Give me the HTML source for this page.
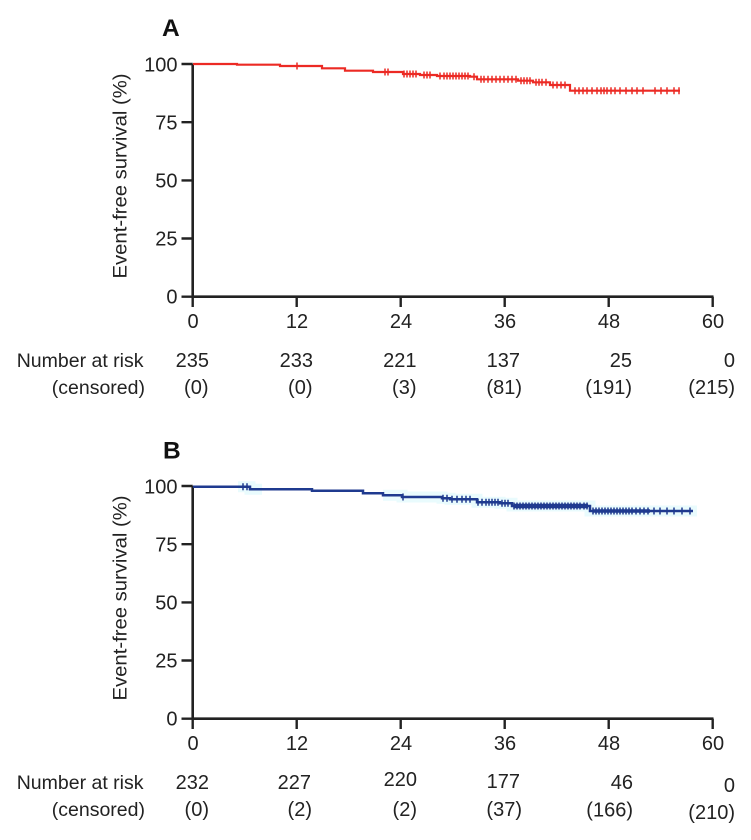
<!DOCTYPE html>
<html>
<head>
<meta charset="utf-8">
<style>
  html,body{margin:0;padding:0;background:#fff;}
  svg{display:block;}
  text{font-family:"Liberation Sans", Arial, sans-serif;fill:#222;}
  .tk{font-size:20px;}
  .rk{font-size:19.5px;}
  .rn{font-size:20px;}
  .yl{font-size:19.5px;}
  .pl{font-size:24.5px;font-weight:bold;fill:#111;}
</style>
</head>
<body>
<svg width="751" height="840" viewBox="0 0 751 840" xmlns="http://www.w3.org/2000/svg">
  <defs>
    <g id="axes">
      <path d="M192.7,64 V296.7 H713.5" fill="none" stroke="#222" stroke-width="2.6"/>
      <path d="M181.5,64 H192.7 M181.5,122.2 H192.7 M181.5,180.4 H192.7 M181.5,238.5 H192.7 M181.5,296.7 H192.7" stroke="#222" stroke-width="2.4"/>
      <path d="M192.7,296.7 V307 M296.7,296.7 V307 M400.7,296.7 V307 M504.7,296.7 V307 M608.7,296.7 V307 M712.7,296.7 V307" stroke="#222" stroke-width="2.4"/>
      <g class="tk" text-anchor="end">
        <text x="177.5" y="71.5">100</text>
        <text x="177.5" y="129.5">75</text>
        <text x="177.5" y="187.5">50</text>
        <text x="177.5" y="245.5">25</text>
        <text x="177.5" y="303.5">0</text>
      </g>
      <g class="tk" text-anchor="middle">
        <text x="193" y="328">0</text>
        <text x="297" y="328">12</text>
        <text x="401" y="328">24</text>
        <text x="505" y="328">36</text>
        <text x="609" y="328">48</text>
        <text x="713" y="328">60</text>
      </g>
      <text class="yl" transform="translate(126.5,176) rotate(-90)" text-anchor="middle" textLength="205" lengthAdjust="spacingAndGlyphs">Event-free survival (%)</text>
      <g class="rk" text-anchor="end">
        <text x="143.5" y="367">Number at risk</text>
        <text x="145" y="394">(censored)</text>
      </g>
    </g>
  </defs>

  <!-- ============ PANEL A ============ -->
  <text class="pl" x="162" y="36">A</text>
  <use href="#axes"/>
  <g class="rn" text-anchor="end">
    <text x="209" y="367">235</text>
    <text x="313" y="367">233</text>
    <text x="416.5" y="367">221</text>
    <text x="520" y="367">137</text>
    <text x="632" y="367">25</text>
    <text x="735" y="367">0</text>
    <text x="208.5" y="394">(0)</text>
    <text x="312.5" y="394">(0)</text>
    <text x="416.5" y="394">(3)</text>
    <text x="522" y="394">(81)</text>
    <text x="632" y="394">(191)</text>
    <text x="735" y="394">(215)</text>
  </g>
  <path d="M193,64 H237 V64.7 H280 V66 H322 V68.3 H345 V70.7 H373 V72 H403 V74 H420 V75 H437 V76 H470 V76.7 H477 V79.3 H518 V80.7 H533 V82.3 H550 V85 H570 V90.7 H680"
        fill="none" stroke="#ec2a24" stroke-width="2.2"/>
  <path fill="none" stroke="#ec2a24" stroke-width="1.5" d="
    M297,62.5v7 M385,68.5v7 M388,68.5v7 M404,70.5v7 M407,70.5v7 M410,70.5v7 M413,70.5v7 M416,70.5v7
    M424,71.5v7 M427,71.5v7 M430,71.5v7 M440,72.5v7 M444,72.5v7 M447,72.5v7 M450,72.5v7 M453,72.5v7
    M456,72.5v7 M459,72.5v7 M462,72.5v7 M465,72.5v7 M468,72.5v7 M474,73.2v7 M481,75.8v7 M484,75.8v7
    M488,75.8v7 M492,75.8v7 M496,75.8v7 M500,75.8v7 M504,75.8v7 M508,75.8v7 M512,75.8v7 M516,75.8v7
    M521,77.2v7 M524,77.2v7 M527,77.2v7 M530,77.2v7 M536,78.8v7 M539,78.8v7 M542,78.8v7 M546,78.8v7
    M553,81.5v7 M557,81.5v7 M561,81.5v7 M565,81.5v7 M575,87.2v7 M579,87.2v7 M583,87.2v7 M587,87.2v7
    M592,87.2v7 M597,87.2v7 M601,87.2v7 M604,87.2v7 M607,87.2v7 M611,87.2v7 M615,87.2v7 M620,87.2v7
    M626,87.2v7 M632,87.2v7 M637,87.2v7 M643,87.2v7 M655,87.2v7 M661,87.2v7 M667,87.2v7 M674,87.2v7 M679,87.2v7"/>

  <!-- ============ PANEL B ============ -->
  <text class="pl" x="163" y="458.3">B</text>
  <use href="#axes" transform="translate(0,422)"/>
  <g class="rn" text-anchor="end">
    <text x="209" y="789">232</text>
    <text x="311" y="789">227</text>
    <text x="417" y="786">220</text>
    <text x="520" y="788">177</text>
    <text x="633" y="789">46</text>
    <text x="735" y="792">0</text>
    <text x="209" y="816">(0)</text>
    <text x="312" y="816">(2)</text>
    <text x="417" y="816">(2)</text>
    <text x="522" y="816">(37)</text>
    <text x="633" y="816.5">(166)</text>
    <text x="735" y="819">(210)</text>
  </g>
  <path d="M238,486.7 H250 V489.3 H262 M383,495.3 H402 V497 H442 V498.3 H450 V499.3 H477 V502.3 H500 V503.3 H512 V506 H590 V511 H697"
        fill="none" stroke="#e9fbfd" stroke-width="11"/>
  <path d="M193,486.7 H250 V489.3 H312 V490.7 H363 V493.3 H383 V495.3 H402 V497 H442 V498.3 H450 V499.3 H477 V502.3 H500 V503.3 H512 V506 H590 V511 H693"
        fill="none" stroke="#1f3a8f" stroke-width="2.5"/>
  <path fill="none" stroke="#1f3a8f" stroke-width="1.5" d="
    M243,483.2v7 M247,483.2v7 M403,493.5v7 M443,494.8v7 M447,494.8v7 M452,495.8v7 M457,495.8v7 M462,495.8v7
    M466,495.8v7 M470,495.8v7 M478,498.8v7 M482,498.8v7 M486,498.8v7 M489,498.8v7 M492,498.8v7 M495,498.8v7
    M498,498.8v7 M502,499.8v7 M505,499.8v7 M508,499.8v7 M514,502.5v7 M517,502.5v7 M520,502.5v7 M523,502.5v7
    M526,502.5v7 M529,502.5v7 M532,502.5v7 M535,502.5v7 M538,502.5v7 M541,502.5v7 M544,502.5v7 M547,502.5v7
    M550,502.5v7 M553,502.5v7 M556,502.5v7 M559,502.5v7 M562,502.5v7 M565,502.5v7 M568,502.5v7 M571,502.5v7
    M574,502.5v7 M577,502.5v7 M580,502.5v7 M584,502.5v7 M587,502.5v7 M593,507.5v7 M596,507.5v7 M599,507.5v7
    M602,507.5v7 M605,507.5v7 M608,507.5v7 M611,507.5v7 M614,507.5v7 M617,507.5v7 M620,507.5v7 M623,507.5v7
    M626,507.5v7 M629,507.5v7 M632,507.5v7 M636,507.5v7 M640,507.5v7 M644,507.5v7 M648,507.5v7 M654,507.5v7
    M660,507.5v7 M667,507.5v7 M674,507.5v7 M682,507.5v7 M690,507.5v7"/>
  <path d="M514,506 H588" stroke="#1f3a8f" stroke-width="4.5" fill="none"/>
  <path d="M593,511 H650" stroke="#1f3a8f" stroke-width="3.5" fill="none"/>
</svg>
</body>
</html>
